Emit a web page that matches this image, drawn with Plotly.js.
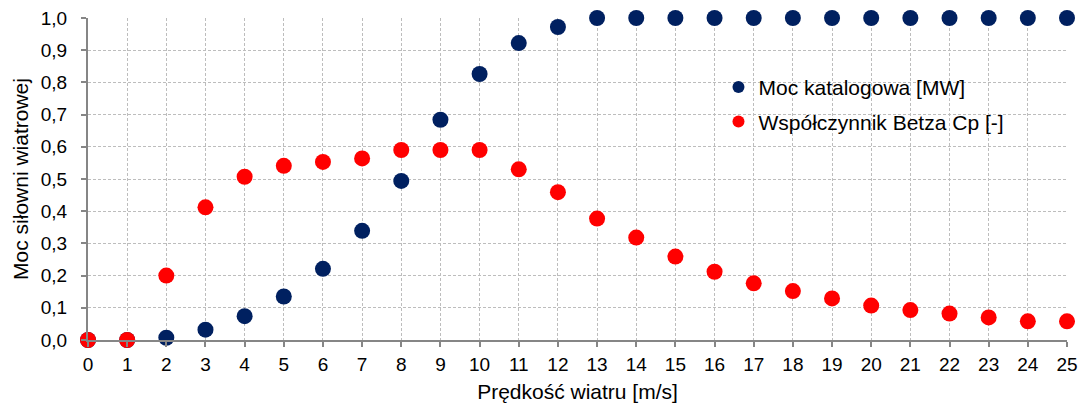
<!DOCTYPE html>
<html>
<head>
<meta charset="utf-8">
<script src="https://cdn.plot.ly/plotly-3.0.1.min.js"></script>
<style>html,body{margin:0;padding:0;background:#fff;}#chart{width:1084px;height:410px;}</style>
</head>
<body>
<div id="chart"></div>
<script>
const windSpeed = [0,1,2,3,4,5,6,7,8,9,10,11,12,13,14,15,16,17,18,19,20,21,22,23,24,25];
const powerMW = [0,0,0.007,0.032,0.074,0.135,0.221,0.339,0.494,0.684,0.826,0.922,0.972,1,1,1,1,1,1,1,1,1,1,1,1,1];
const betzCp = [0,0,0.2,0.412,0.507,0.541,0.553,0.564,0.59,0.59,0.59,0.53,0.459,0.377,0.318,0.259,0.212,0.176,0.152,0.129,0.107,0.093,0.082,0.07,0.058,0.058];
const seriesNames = ['Moc katalogowa [MW]', 'Współczynnik Betza Cp [-]'];
const xTitle = 'Prędkość wiatru [m/s]';
const yTitle = 'Moc siłowni wiatrowej';

const font = 'Arial, "Liberation Sans", sans-serif';
const traces = [
  {x: windSpeed, y: powerMW, name: seriesNames[0], mode: 'markers', type: 'scatter', cliponaxis: false,
   legendgroup: 'a', marker: {color: '#002060', size: 16}},
  {x: windSpeed, y: betzCp, name: seriesNames[1], mode: 'markers', type: 'scatter', cliponaxis: false,
   legendgroup: 'b', marker: {color: '#FF0000', size: 16}}
];
const axisCommon = {
  showline: true, linecolor: '#868686', linewidth: 2,
  showgrid: true, gridcolor: '#bdbdbd', gridwidth: 1, griddash: '3px,2px',
  zeroline: false, ticks: 'outside', ticklen: 5, tickwidth: 2, tickcolor: '#868686',
  tickfont: {family: font, size: 19, color: '#000'}
};
const layout = {
  width: 1084, height: 410,
  margin: {l: 88, r: 17, t: 18, b: 70},
  paper_bgcolor: '#fff', plot_bgcolor: '#fff',
  separators: ',.',
  showlegend: true,
  xaxis: Object.assign({}, axisCommon, {range: [0, 25], dtick: 1, tick0: 0, ticklabelstandoff: 1,
    title: {text: xTitle, font: {family: font, size: 21, color: '#000'}, standoff: 11}}),
  yaxis: Object.assign({}, axisCommon, {range: [0, 1], dtick: 0.1, tick0: 0, tickformat: '.1f', ticklabelstandoff: 10,
    title: {text: yTitle, font: {family: font, size: 21, color: '#000'}, standoff: 6}}),
  legend: {x: 0.644, xanchor: 'left', y: 0.848, yanchor: 'top', bgcolor: 'rgba(255,255,255,0)',
    font: {family: font, size: 21, color: '#000'}, itemsizing: 'constant',
    traceorder: 'grouped', tracegroupgap: 4}
};
Plotly.newPlot('chart', traces, layout, {displayModeBar: false, staticPlot: true});
</script>
</body>
</html>
